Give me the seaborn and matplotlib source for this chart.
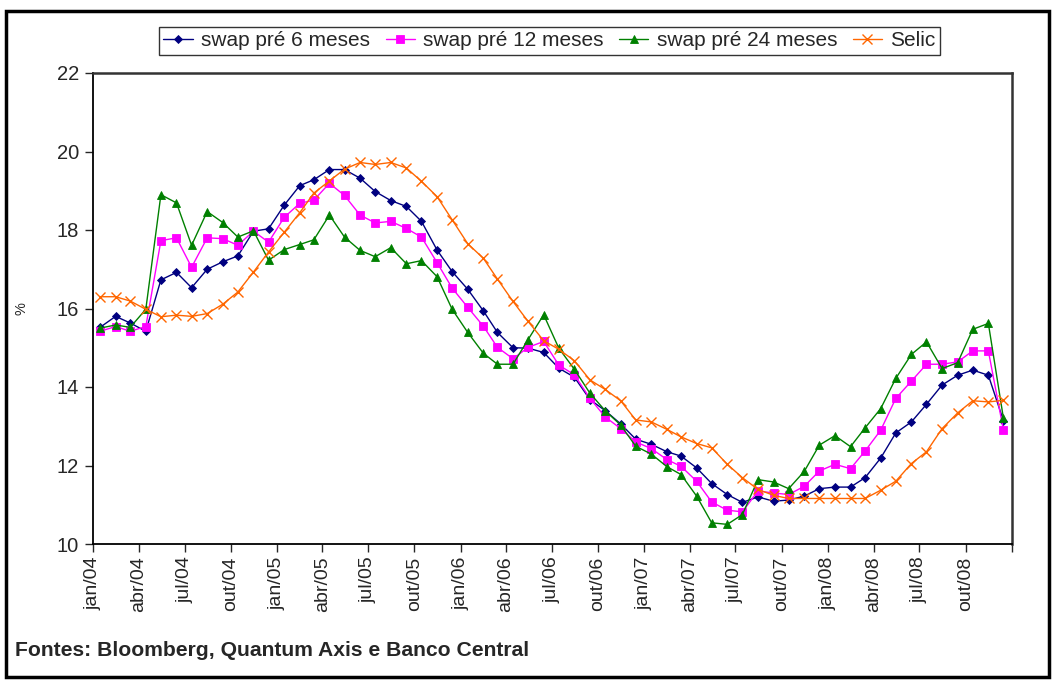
import matplotlib
matplotlib.use("Agg")
import matplotlib.pyplot as plt
import matplotlib.dates as mdates
import matplotlib.patches as mpatches
import numpy as np
import pandas as pd
import seaborn as sns

# ---------------- data ----------------
months = pd.date_range("2004-01-01", periods=60, freq="MS") + pd.Timedelta(days=14)

swap6 = [15.52, 15.8, 15.63, 15.42, 16.73, 16.92, 16.53, 17.0, 17.19, 17.34,
         17.97, 18.03, 18.63, 19.13, 19.28, 19.54, 19.54, 19.32, 18.98, 18.75,
         18.6, 18.22, 17.49, 16.94, 16.49, 15.94, 15.39, 15.0, 14.99, 14.88,
         14.48, 14.25, 13.68, 13.4, 13.06, 12.67, 12.54, 12.35, 12.24, 11.94,
         11.54, 11.26, 11.06, 11.2, 11.09, 11.12, 11.22, 11.41, 11.45, 11.45,
         11.69, 12.19, 12.83, 13.11, 13.56, 14.05, 14.3, 14.43, 14.3, 13.14]

swap12 = [15.42, 15.54, 15.42, 15.54, 17.73, 17.8, 17.05, 17.8, 17.78, 17.61,
          17.97, 17.69, 18.32, 18.68, 18.76, 19.19, 18.88, 18.38, 18.18, 18.22,
          18.04, 17.82, 17.17, 16.52, 16.03, 15.55, 15.01, 14.72, 15.01, 15.16,
          14.56, 14.31, 13.71, 13.24, 12.94, 12.6, 12.43, 12.15, 11.98, 11.6,
          11.07, 10.86, 10.82, 11.35, 11.3, 11.26, 11.47, 11.86, 12.03, 11.92,
          12.37, 12.9, 13.71, 14.15, 14.58, 14.58, 14.64, 14.92, 14.92, 12.9]

swap24 = [15.5, 15.58, 15.52, 15.98, 18.9, 18.69, 17.61, 18.47, 18.19, 17.82,
          17.98, 17.23, 17.5, 17.63, 17.75, 18.38, 17.82, 17.48, 17.32, 17.55,
          17.14, 17.22, 16.81, 15.98, 15.39, 14.86, 14.58, 14.58, 15.21, 15.84,
          14.99, 14.45, 13.84, 13.4, 13.03, 12.49, 12.29, 11.97, 11.77, 11.22,
          10.54, 10.5, 10.75, 11.64, 11.58, 11.41, 11.85, 12.52, 12.76, 12.48,
          12.96, 13.45, 14.22, 14.83, 15.15, 14.47, 14.62, 15.47, 15.62, 13.2]

selic = [16.3, 16.3, 16.19, 15.98, 15.79, 15.83, 15.8, 15.87, 16.11, 16.42,
         16.93, 17.44, 17.94, 18.44, 18.94, 19.25, 19.55, 19.72, 19.67, 19.72,
         19.58, 19.24, 18.85, 18.26, 17.65, 17.28, 16.75, 16.18, 15.67, 15.18,
         14.96, 14.67, 14.18, 13.94, 13.65, 13.16, 13.11, 12.92, 12.73, 12.56,
         12.45, 12.03, 11.69, 11.39, 11.24, 11.16, 11.16, 11.16, 11.16, 11.16,
         11.16, 11.37, 11.6, 12.05, 12.35, 12.94, 13.34, 13.65, 13.62, 13.66]

series_names = ["swap pré 6 meses", "swap pré 12 meses", "swap pré 24 meses", "Selic"]

tick_labels = ["jan/04", "abr/04", "jul/04", "out/04",
               "jan/05", "abr/05", "jul/05", "out/05",
               "jan/06", "abr/06", "jul/06", "out/06",
               "jan/07", "abr/07", "jul/07", "out/07",
               "jan/08", "abr/08", "jul/08", "out/08", ""]

# ---------------- styling ----------------
sns.set_theme(style="white")
plt.rcParams["font.family"] = ["Liberation Sans", "DejaVu Sans"]

colors = ["#000080", "#FF00FF", "#008000", "#FF6600"]
markers = ["D", "s", "^", "x"]
msizes = [4.2, 5.2, 6.0, 6.5]

W, H = 1055, 681
fig = plt.figure(figsize=(W / 100, H / 100), dpi=100)
ax = fig.add_axes([93 / W, 1 - 544 / H, (1012 - 93) / W, (544 - 73) / H])

values = [swap6, swap12, swap24, selic]
for name, vals, c, m, ms in zip(series_names, values, colors, markers, msizes):
    df = pd.DataFrame({"data": months, "valor": vals})
    sns.lineplot(data=df, x="data", y="valor", ax=ax, color=c, marker=m,
                 markersize=ms, markeredgecolor=c, markerfacecolor=c,
                 markeredgewidth=1.0 if m == "x" else 0.6,
                 linewidth=1.0, label=name)

ax.set_xlim(pd.Timestamp("2004-01-01"), pd.Timestamp("2009-01-01"))
ax.set_ylim(10, 22)
ax.set_yticks(np.arange(10, 23, 2))
ticks = pd.date_range("2004-01-01", "2009-01-01", freq="3MS")
ax.set_xticks(ticks)
ax.set_xticklabels(tick_labels, rotation=90, fontsize=14)
ax.tick_params(axis="y", labelsize=14.5, direction="out", length=6, width=1,
               left=True, pad=4)
ax.tick_params(axis="x", direction="out", length=6, width=1, bottom=True, pad=3)
ax.set_xlabel("")
ax.set_ylabel("%", fontsize=10.5)
ax.yaxis.set_label_coords((28 - 93) / (1012 - 93), 0.5)

for side in ["left", "bottom"]:
    ax.spines[side].set_color("black")
    ax.spines[side].set_linewidth(1.3)
for side in ["top", "right"]:
    ax.spines[side].set_color("#333333")
    ax.spines[side].set_linewidth(1.8)

leg = ax.legend(ncol=4, loc="center", bbox_to_anchor=(549.5 / W, 1 - 41 / H),
                bbox_transform=fig.transFigure, frameon=True, fancybox=False,
                edgecolor="black", fontsize=15, handlelength=1.4,
                handletextpad=0.4, columnspacing=0.75, borderpad=0.2,
                borderaxespad=0)
leg.get_frame().set_linewidth(1.0)

fig.text(15 / W, 1 - 650 / H, "Fontes: Bloomberg, Quantum Axis e Banco Central",
         fontsize=15.2, fontweight="bold", ha="left", va="center")

# outer frame
fig.patches.append(mpatches.Rectangle((6 / W, 1 - 677 / H), (1049 - 6) / W, (677 - 11) / H,
                                      transform=fig.transFigure, fill=False,
                                      edgecolor="black", linewidth=2.5))

fig.savefig("out.png", dpi=100)
